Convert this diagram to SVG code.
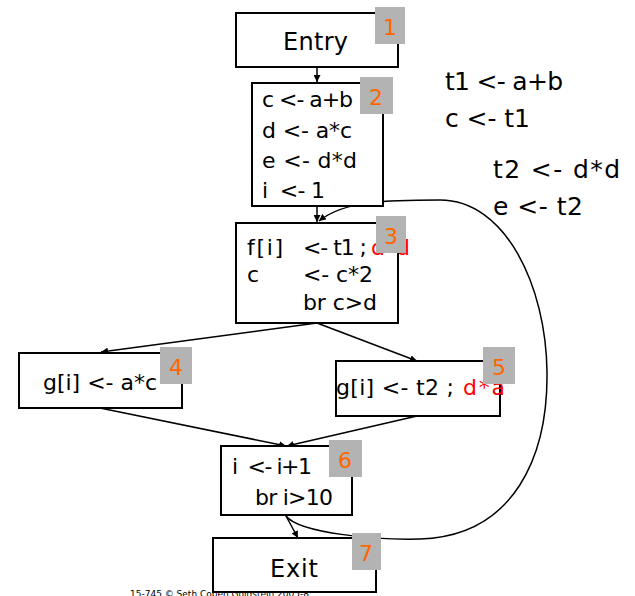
<svg xmlns="http://www.w3.org/2000/svg" width="635" height="596" viewBox="0 0 635 596">
<style>
.box{fill:#fff;stroke:#000;stroke-width:2}
.t{font-family:"DejaVu Sans",sans-serif;font-size:22px;fill:#000}
.lg{font-size:24px}
.big{font-family:"DejaVu Sans",sans-serif;font-size:25px;fill:#000}
.red{fill:#ff0000}
.tag{fill:#b3b3b3}
.num{font-family:"DejaVu Sans",sans-serif;font-size:22px;fill:#ff6600;text-anchor:middle}
.edge{fill:none;stroke:#000;stroke-width:1.5}
.foot{font-family:"DejaVu Sans",sans-serif;font-size:9px;fill:#000}
</style>
<defs>
<marker id="ah" viewBox="0 0 10 10" refX="10" refY="5" markerWidth="7" markerHeight="7" orient="auto" markerUnits="userSpaceOnUse">
<path d="M0,0 L10,5 L0,10 z" fill="#000"/>
</marker>
</defs>
<text class="foot" x="130" y="597">15-745 © Seth Copen Goldstein 2005-8</text>
<g id="connectors">
<line class="edge" x1="317" y1="67" x2="317" y2="82" marker-end="url(#ah)"/>
<line class="edge" x1="317" y1="206" x2="317" y2="222" marker-end="url(#ah)"/>
<line class="edge" x1="317" y1="323" x2="101" y2="352" marker-end="url(#ah)"/>
<line class="edge" x1="317" y1="323" x2="417" y2="361" marker-end="url(#ah)"/>
<line class="edge" x1="100" y1="408" x2="286" y2="446" marker-end="url(#ah)"/>
<line class="edge" x1="417" y1="416" x2="287" y2="446" marker-end="url(#ah)"/>
<line class="edge" x1="286" y1="516" x2="298" y2="538" marker-end="url(#ah)"/>
<path class="edge" d="M286 516 C300 534,380 540,420 539 C515 536,548 455,547 372 C546 285,505 200,440 200 C390 200,345 200,319 221" marker-end="url(#ah)"/>
</g>
<g id="n1">
<rect class="box" x="236" y="13" width="162" height="54"/>
<text class="t lg" x="283" y="50" textLength="65">Entry</text>
<rect class="tag" x="375" y="7" width="30" height="37"/>
<text class="num" x="390" y="35">1</text>
</g>
<g id="n2">
<rect class="box" x="252" y="83" width="131" height="123"/>
<text class="t" x="262" y="107" textLength="91">c &lt;- a+b</text>
<text class="t" x="262" y="138" textLength="90">d &lt;- a*c</text>
<text class="t" x="262" y="168" textLength="95">e &lt;- d*d</text>
<text class="t" x="262" y="198" textLength="63" xml:space="preserve">i  &lt;- 1</text>
<rect class="tag" x="360" y="77" width="33" height="37"/>
<text class="num" x="376" y="105">2</text>
</g>
<g id="n3">
<rect class="box" x="236" y="223" width="162" height="100"/>
<text class="t" x="247" y="255" textLength="36">f[i]</text>
<text class="t" x="303" y="255" textLength="64">&lt;- t1 ;</text>
<text class="t red" x="371" y="255" textLength="39">d*d</text>
<text class="t" x="247" y="282">c</text>
<text class="t" x="303" y="282" textLength="70">&lt;- c*2</text>
<text class="t" x="303" y="310" textLength="74">br c&gt;d</text>
<rect class="tag" x="376" y="216" width="30" height="37"/>
<text class="num" x="391" y="244">3</text>
</g>
<g id="n4">
<rect class="box" x="19" y="353" width="163" height="55"/>
<text class="t" x="43" y="390" textLength="114">g[i] &lt;- a*c</text>
<rect class="tag" x="160" y="347" width="32" height="37"/>
<text class="num" x="176" y="375">4</text>
</g>
<g id="n5">
<rect class="box" x="336" y="361" width="164" height="55"/>
<text class="t" x="336" y="395" textLength="118">g[i] &lt;- t2 ;</text>
<text class="t red" x="463" y="395" textLength="42">d*a</text>
<rect class="tag" x="483" y="347" width="32" height="37"/>
<text class="num" x="499" y="375">5</text>
</g>
<g id="n6">
<rect class="box" x="221" y="446" width="131" height="69"/>
<text class="t" x="232" y="474" textLength="80" xml:space="preserve">i  &lt;- i+1</text>
<text class="t" x="255" y="505" textLength="78">br i&gt;10</text>
<rect class="tag" x="329" y="440" width="33" height="37"/>
<text class="num" x="345" y="468">6</text>
</g>
<g id="n7">
<rect class="box" x="213" y="538" width="163" height="54"/>
<text class="t lg" x="270" y="577" textLength="48">Exit</text>
<rect class="tag" x="352" y="533" width="29" height="37"/>
<text class="num" x="366" y="561">7</text>
</g>
<g id="notes">
<text class="big" x="445" y="90" textLength="118">t1 &lt;- a+b</text>
<text class="big" x="445" y="127" textLength="85">c &lt;- t1</text>
<text class="big" x="493" y="178" textLength="127">t2 &lt;- d*d</text>
<text class="big" x="493" y="215" textLength="90">e &lt;- t2</text>
</g>
</svg>
